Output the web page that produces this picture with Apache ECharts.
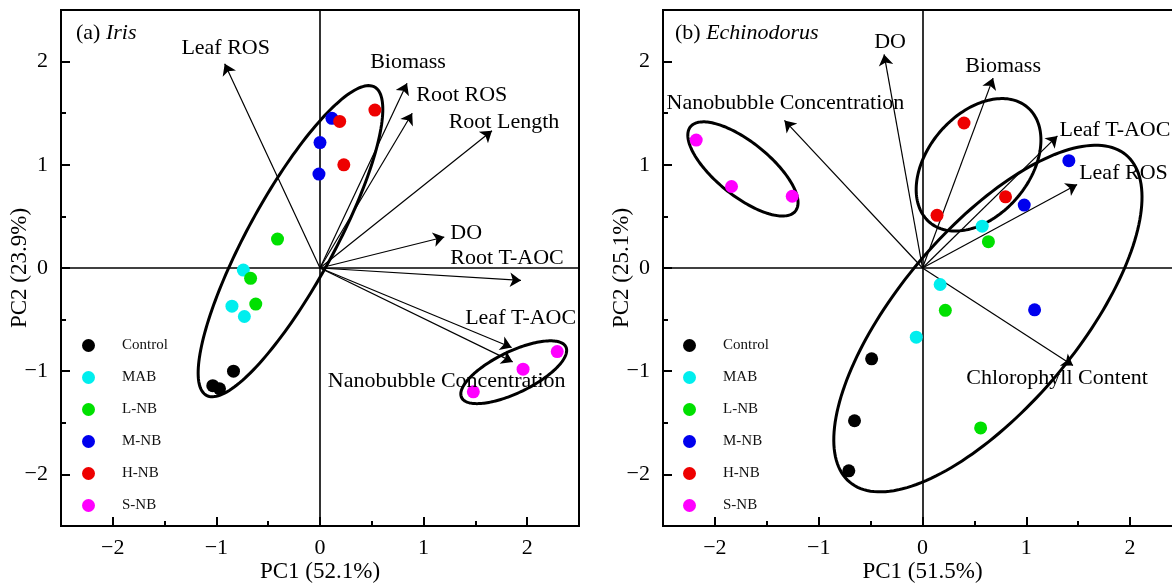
<!DOCTYPE html>
<html>
<head>
<meta charset="utf-8">
<title>PCA biplots: Iris and Echinodorus</title>
<script src="https://cdn.jsdelivr.net/npm/echarts@6/dist/echarts.min.js"></script>
<style>
  html, body { margin: 0; padding: 0; background: #ffffff; }
  #chart { width: 1172px; height: 584px; }
</style>
</head>
<body>
<div id="chart"></div>
<script>
// ---------------- data ----------------
const groups = ['Control', 'MAB', 'L-NB', 'M-NB', 'H-NB', 'S-NB'];
const axisTicks = [-2, -1, 0, 1, 2];
const axisHalfTicks = [-1.5, -0.5, 0.5, 1.5];

// (a) Iris — sample scores [PC1, PC2]
const irisControl = [[-0.835, -1.00], [-1.035, -1.14], [-0.97, -1.17]];
const irisMAB     = [[-0.74, -0.02], [-0.85, -0.37], [-0.73, -0.47]];
const irisLNB     = [[-0.41, 0.28], [-0.67, -0.10], [-0.62, -0.35]];
const irisMNB     = [[0.115, 1.45], [0.00, 1.215], [-0.01, 0.91]];
const irisHNB     = [[0.19, 1.42], [0.53, 1.53], [0.23, 1.00]];
const irisSNB     = [[2.29, -0.81], [1.96, -0.98], [1.48, -1.20]];

// (a) Iris — variable loadings
const irisVars = ['Leaf ROS', 'Biomass', 'Root ROS', 'Root Length', 'DO',
                  'Root T-AOC', 'Leaf T-AOC', 'Nanobubble Concentration'];
const irisPC1  = [-0.92, 0.84, 0.89, 1.66, 1.20, 1.94, 1.85, 1.86];
const irisPC2  = [1.98, 1.79, 1.50, 1.33, 0.30, -0.12, -0.77, -0.91];

// (a) Iris — group ellipses [centre PC1, centre PC2, semi-major, semi-minor, tilt deg]
const irisEllipses = [[-0.285, 0.26, 1.70, 0.42, 61.5], [1.87, -1.01, 0.56, 0.20, 26]];

// (b) Echinodorus — sample scores [PC1, PC2]
const echControl = [[-0.49, -0.88], [-0.655, -1.48], [-0.71, -1.965]];
const echMAB     = [[0.575, 0.405], [0.17, -0.16], [-0.06, -0.67]];
const echLNB     = [[0.635, 0.255], [0.22, -0.41], [0.56, -1.55]];
const echMNB     = [[1.41, 1.04], [0.98, 0.61], [1.08, -0.405]];
const echHNB     = [[0.40, 1.405], [0.14, 0.51], [0.80, 0.69]];
const echSNB     = [[-2.18, 1.24], [-1.84, 0.79], [-1.255, 0.695]];

// (b) Echinodorus — variable loadings
const echVars = ['DO', 'Biomass', 'Nanobubble Concentration', 'Leaf T-AOC',
                 'Leaf ROS', 'Chlorophyll Content'];
const echPC1  = [-0.37, 0.68, -1.33, 1.30, 1.49, 1.45];
const echPC2  = [2.07, 1.84, 1.43, 1.28, 0.81, -0.945];

// (b) Echinodorus — group ellipses
const echEllipses = [[-1.73, 0.96, 0.65, 0.26, -39], [0.54, 1.00, 0.73, 0.49, 50],
                     [0.63, -0.49, 2.07, 0.86, 50]];

// ---------------- styles ----------------
const FONT = '"Liberation Serif", "Times New Roman", Times, serif';
const INK = '#000000';
const groupColors = ['#000000', '#00eeee', '#00e000', '#0000ee', '#ee0000', '#ff00ff'];

// loading label placement: [align, dx, dy] in pixels from the arrow tip
const irisLabelPlace = {
  'Leaf ROS': ['center', 1, -15],
  'Biomass': ['center', 1, -21],
  'Root ROS': ['left', 4, -18],
  'Root Length': ['center', 12, -9],
  'DO': ['left', 6, -4],
  'Root T-AOC': ['center', -14, -22],
  'Leaf T-AOC': ['center', 9, -29],
  'Nanobubble Concentration': ['center', -66, 19]
};
const echLabelPlace = {
  'DO': ['center', 6, -12],
  'Biomass': ['center', 10, -12],
  'Nanobubble Concentration': ['center', 1, -17],
  'Leaf T-AOC': ['left', 2, -6],
  'Leaf ROS': ['left', 2, -11],
  'Chlorophyll Content': ['center', -16, 13]
};

const minus = v => (v < 0 ? '\u2212' + Math.abs(v) : String(v));

function buildPanel(k, p) {
  const xi = 2 * k, yi = 2 * k;
  const xAxes = [
    {
      type: 'value', gridIndex: k, min: -2.5, max: 2.5, position: 'bottom',
      name: p.xName, nameLocation: 'middle', nameGap: 34, nameMoveOverlap: false,
      nameTextStyle: { fontFamily: FONT, fontSize: 23, color: INK },
      axisLine: { show: true, onZero: false, lineStyle: { color: '#000', width: 2 } },
      axisTick: { show: true, inside: true, length: 9, customValues: axisTicks,
                  lineStyle: { color: '#000', width: 2 } },
      axisLabel: { show: true, customValues: axisTicks, formatter: minus, margin: 11,
                   fontFamily: FONT, fontSize: 22, color: INK },
      splitLine: { show: false }
    },
    {
      type: 'value', gridIndex: k, min: -2.5, max: 2.5, position: 'bottom',
      axisLine: { show: false, onZero: false },
      axisTick: { show: true, inside: true, length: 5, customValues: axisHalfTicks,
                  lineStyle: { color: '#000', width: 2 } },
      axisLabel: { show: false }, splitLine: { show: false }
    }
  ];
  const yAxes = [
    {
      type: 'value', gridIndex: k, min: -2.5, max: 2.5, position: 'left',
      name: p.yName, nameLocation: 'middle', nameGap: 30, nameMoveOverlap: false,
      nameTextStyle: { fontFamily: FONT, fontSize: 23, color: INK },
      axisLine: { show: true, onZero: false, lineStyle: { color: '#000', width: 2 } },
      axisTick: { show: true, inside: true, length: 9, customValues: axisTicks,
                  lineStyle: { color: '#000', width: 2 } },
      axisLabel: { show: true, customValues: axisTicks, formatter: minus, margin: 13,
                   fontFamily: FONT, fontSize: 22, color: INK },
      splitLine: { show: false }
    },
    {
      type: 'value', gridIndex: k, min: -2.5, max: 2.5, position: 'left',
      axisLine: { show: false, onZero: false },
      axisTick: { show: true, inside: true, length: 5, customValues: axisHalfTicks,
                  lineStyle: { color: '#000', width: 2 } },
      axisLabel: { show: false }, splitLine: { show: false }
    }
  ];

  const series = [];

  // origin cross-hair
  series.push({
    type: 'scatter', name: 'origin' + k, xAxisIndex: xi, yAxisIndex: yi,
    data: [[0, 0]], symbolSize: 0, silent: true, z: 1,
    markLine: {
      silent: true, symbol: 'none', label: { show: false },
      lineStyle: { color: '#000', width: 1.6, type: 'solid' },
      emphasis: { disabled: true },
      data: [{ xAxis: 0 }, { yAxis: 0 }]
    }
  });

  // loading arrows
  series.push({
    type: 'lines', coordinateSystem: 'cartesian2d', xAxisIndex: xi, yAxisIndex: yi,
    silent: true, z: 3, symbol: ['none', 'arrow'], symbolSize: [0, 11],
    lineStyle: { color: '#000', width: 1.2, opacity: 1, curveness: 0 },
    data: p.vars.map((n, i) => ({ name: n, coords: [[0, 0], [p.pc1[i], p.pc2[i]]] }))
  });

  // group ellipses
  series.push({
    type: 'custom', xAxisIndex: xi, yAxisIndex: yi, silent: true, z: 4,
    data: p.ellipses, encode: { x: 0, y: 1 },
    renderItem: (params, api) => {
      const cx = api.value(0), cy = api.value(1), a = api.value(2), b = api.value(3);
      const th = api.value(4) * Math.PI / 180;
      const pts = [];
      for (let s = 0; s < 180; s++) {
        const t = 2 * Math.PI * s / 180;
        const ex = cx + a * Math.cos(t) * Math.cos(th) - b * Math.sin(t) * Math.sin(th);
        const ey = cy + a * Math.cos(t) * Math.sin(th) + b * Math.sin(t) * Math.cos(th);
        pts.push(api.coord([ex, ey]));
      }
      return { type: 'polygon', shape: { points: pts },
               style: { fill: 'none', stroke: '#000', lineWidth: 3 } };
    }
  });

  // sample scores
  groups.forEach((g, j) => {
    series.push({
      type: 'scatter', name: g, xAxisIndex: xi, yAxisIndex: yi, z: 5,
      data: p.scores[j], symbol: 'circle', symbolSize: 13,
      itemStyle: { color: groupColors[j], opacity: 1 }
    });
  });

  // loading names, anchored at each arrow tip
  series.push({
    type: 'scatter', name: 'loadings' + k, xAxisIndex: xi, yAxisIndex: yi,
    silent: true, z: 6, symbolSize: 1,
    itemStyle: { color: 'rgba(0,0,0,0)' },
    label: { show: true, position: 'inside', formatter: '{b}',
             fontFamily: FONT, fontSize: 22, color: INK, opacity: 1,
             textBorderWidth: 0, textShadowBlur: 0 },
    data: p.vars.map((n, i) => {
      const pl = p.place[n];
      return { name: n, value: [p.pc1[i], p.pc2[i]],
               label: { align: pl[0], verticalAlign: 'middle', offset: [pl[1], pl[2]] } };
    })
  });

  return { xAxes, yAxes, series };
}

const panels = [
  buildPanel(0, {
    xName: 'PC1 (52.1%)', yName: 'PC2 (23.9%)',
    scores: [irisControl, irisMAB, irisLNB, irisMNB, irisHNB, irisSNB],
    vars: irisVars, pc1: irisPC1, pc2: irisPC2,
    ellipses: irisEllipses, place: irisLabelPlace
  }),
  buildPanel(1, {
    xName: 'PC1 (51.5%)', yName: 'PC2 (25.1%)',
    scores: [echControl, echMAB, echLNB, echMNB, echHNB, echSNB],
    vars: echVars, pc1: echPC1, pc2: echPC2,
    ellipses: echEllipses, place: echLabelPlace
  })
];

const legendBase = {
  data: groups, orient: 'vertical', icon: 'circle',
  itemWidth: 13, itemHeight: 13, itemGap: 17, top: 338, padding: 0,
  selectedMode: true, inactiveColor: '#bbb',
  textStyle: { fontFamily: FONT, fontSize: 15, color: '#111', lineHeight: 13,
               padding: [0, 0, 0, 22] }
};

const titleStyle = {
  fontFamily: FONT, fontSize: 22, fontWeight: 'normal', color: INK,
  rich: { i: { fontFamily: FONT, fontSize: 22, fontStyle: 'italic', color: INK } }
};

const gridBase = {
  top: 10, height: 516, show: true, outerBoundsMode: 'none', containLabel: false,
  borderColor: '#000', borderWidth: 2, backgroundColor: 'transparent'
};

const option = {
  animation: false,
  backgroundColor: '#ffffff',
  title: [
    { text: '(a) {i|Iris}', left: 76, top: 22, padding: 0, textStyle: titleStyle },
    { text: '(b) {i|Echinodorus}', left: 675, top: 22, padding: 0, textStyle: titleStyle }
  ],
  legend: [
    Object.assign({}, legendBase, { left: 82 }),
    Object.assign({}, legendBase, { left: 683 })
  ],
  grid: [
    Object.assign({}, gridBase, { left: 61, width: 518 }),
    Object.assign({}, gridBase, { left: 663, width: 519 })
  ],
  xAxis: panels[0].xAxes.concat(panels[1].xAxes),
  yAxis: panels[0].yAxes.concat(panels[1].yAxes),
  series: panels[0].series.concat(panels[1].series)
};

const chart = echarts.init(document.getElementById('chart'), null, { renderer: 'canvas' });
chart.setOption(option);
</script>
</body>
</html>
